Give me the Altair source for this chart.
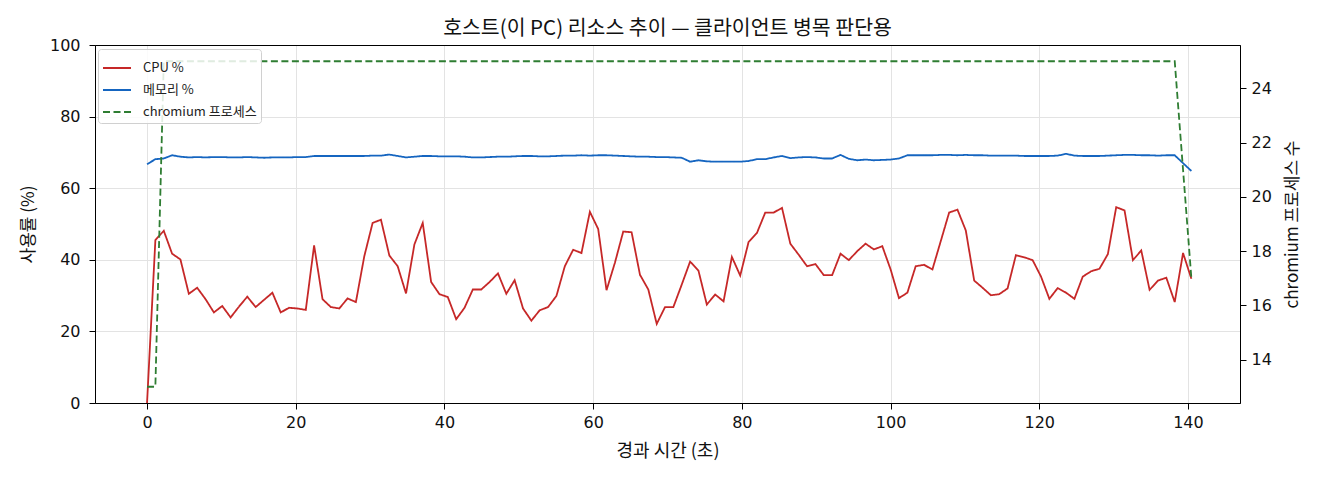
import altair as alt
import pandas as pd

# elapsed time (s) of each sample
times = [
    0.00, 1.12, 2.25, 3.37, 4.49, 5.62, 6.74, 7.87, 8.99, 10.11,
    11.24, 12.36, 13.48, 14.61, 15.73, 16.86, 17.98, 19.10, 20.23, 21.35,
    22.47, 23.60, 24.72, 25.85, 26.97, 28.09, 29.22, 30.34, 31.46, 32.59,
    33.71, 34.83, 35.96, 37.08, 38.21, 39.33, 40.45, 41.58, 42.70, 43.82,
    44.95, 46.07, 47.20, 48.32, 49.44, 50.57, 51.69, 52.81, 53.94, 55.06,
    56.19, 57.31, 58.43, 59.56, 60.68, 61.80, 62.93, 64.05, 65.17, 66.30,
    67.42, 68.55, 69.67, 70.79, 71.92, 73.04, 74.16, 75.29, 76.41, 77.54,
    78.66, 79.78, 80.91, 82.03, 83.15, 84.28, 85.40, 86.52, 87.65, 88.77,
    89.90, 91.02, 92.14, 93.27, 94.39, 95.51, 96.64, 97.76, 98.89, 100.01,
    101.13, 102.26, 103.38, 104.50, 105.63, 106.75, 107.88, 109.00, 110.12, 111.25,
    112.37, 113.49, 114.62, 115.74, 116.86, 117.99, 119.11, 120.24, 121.36, 122.48,
    123.61, 124.73, 125.85, 126.98, 128.10, 129.23, 130.35, 131.47, 132.60, 133.72,
    134.84, 135.97, 137.09, 138.22, 139.34, 140.46,
]

cpu = [
    0.0, 45.5, 48.1, 41.7, 40.1, 30.5, 32.2, 29.0, 25.3, 27.1,
    23.9, 26.9, 29.7, 26.8, 28.8, 30.8, 25.3, 26.6, 26.4, 26.0,
    44.0, 29.0, 26.8, 26.4, 29.2, 28.2, 41.0, 50.3, 51.2, 41.2,
    38.2, 30.6, 44.3, 50.3, 33.8, 30.4, 29.6, 23.4, 26.6, 31.7,
    31.7, 33.8, 36.2, 30.5, 34.3, 26.4, 23.0, 25.9, 26.8, 29.9,
    38.2, 42.8, 41.9, 53.4, 48.6, 31.5, 39.2, 47.9, 47.7, 35.8,
    31.7, 22.1, 26.8, 26.8, 33.1, 39.5, 37.0, 27.5, 30.3, 28.4,
    40.8, 35.6, 45.0, 47.5, 53.2, 53.2, 54.5, 44.5, 41.4, 38.2,
    38.8, 35.7, 35.7, 41.7, 39.9, 42.4, 44.5, 42.9, 43.8, 37.3,
    29.3, 30.8, 38.2, 38.6, 37.3, 45.2, 53.2, 54.0, 48.2, 34.2,
    32.2, 30.1, 30.4, 32.0, 41.3, 40.7, 39.9, 35.3, 29.1, 32.1,
    30.8, 29.1, 35.3, 36.8, 37.5, 41.6, 54.7, 53.8, 39.9, 42.6,
    31.6, 34.2, 35.0, 28.2, 41.9, 34.7,
]

mem = [
    66.7, 68.1, 68.3, 69.2, 68.8, 68.6, 68.7, 68.6, 68.7, 68.7,
    68.6, 68.6, 68.7, 68.6, 68.5, 68.6, 68.6, 68.6, 68.7, 68.7,
    69.0, 69.0, 69.0, 69.0, 69.0, 69.0, 69.0, 69.1, 69.1, 69.4,
    69.0, 68.6, 68.8, 69.0, 69.0, 68.9, 68.9, 68.9, 68.8, 68.6,
    68.6, 68.7, 68.8, 68.8, 68.9, 69.0, 69.0, 68.9, 68.9, 69.0,
    69.1, 69.1, 69.2, 69.1, 69.2, 69.2, 69.1, 69.0, 68.9, 68.8,
    68.8, 68.7, 68.7, 68.6, 68.5, 67.4, 67.8, 67.5, 67.4, 67.4,
    67.4, 67.4, 67.6, 68.1, 68.1, 68.6, 69.0, 68.4, 68.6, 68.7,
    68.6, 68.3, 68.3, 69.3, 68.2, 67.8, 68.0, 67.8, 67.9, 68.0,
    68.3, 69.2, 69.2, 69.2, 69.2, 69.3, 69.3, 69.2, 69.3, 69.2,
    69.2, 69.1, 69.1, 69.1, 69.1, 69.0, 69.0, 69.0, 69.0, 69.1,
    69.6, 69.1, 69.0, 69.0, 69.0, 69.1, 69.2, 69.3, 69.3, 69.2,
    69.2, 69.1, 69.2, 69.2, 67.0, 64.8,
]

procs = [
    13, 13, 25, 25, 25, 25, 25, 25, 25, 25,
    25, 25, 25, 25, 25, 25, 25, 25, 25, 25,
    25, 25, 25, 25, 25, 25, 25, 25, 25, 25,
    25, 25, 25, 25, 25, 25, 25, 25, 25, 25,
    25, 25, 25, 25, 25, 25, 25, 25, 25, 25,
    25, 25, 25, 25, 25, 25, 25, 25, 25, 25,
    25, 25, 25, 25, 25, 25, 25, 25, 25, 25,
    25, 25, 25, 25, 25, 25, 25, 25, 25, 25,
    25, 25, 25, 25, 25, 25, 25, 25, 25, 25,
    25, 25, 25, 25, 25, 25, 25, 25, 25, 25,
    25, 25, 25, 25, 25, 25, 25, 25, 25, 25,
    25, 25, 25, 25, 25, 25, 25, 25, 25, 25,
    25, 25, 25, 25, 21, 17,
]

x_ticks = [0, 20, 40, 60, 80, 100, 120, 140]
left_ticks = [0, 20, 40, 60, 80, 100]
right_ticks = [14, 16, 18, 20, 22, 24]

SERIES = ["CPU %", "메모리 %", "chromium 프로세스"]
COLORS = ["#c62828", "#1565c0", "#2e7d32"]
DASHES = [[1, 0], [1, 0], [7, 3.5]]

FONT = "Noto Sans CJK KR"
NUMFONT = "DejaVu Sans"

df_pct = pd.DataFrame({
    "t": times + times,
    "value": cpu + mem,
    "series": ["CPU %"] * len(cpu) + ["메모리 %"] * len(mem),
})
df_proc = pd.DataFrame({
    "t": times,
    "count": procs,
    "series": ["chromium 프로세스"] * len(procs),
})

legend = alt.Legend(
    title=None, orient="none", legendX=3, legendY=4,
    symbolType="stroke", symbolSize=784, symbolStrokeWidth=2,
    labelFont=FONT, labelFontSize=13, labelColor="#222222", labelOffset=11,
    rowPadding=0, padding=4, cornerRadius=3,
    fillColor="rgba(255,255,255,0.85)", strokeColor="#d0d0d0",
)

color = alt.Color("series:N", scale=alt.Scale(domain=SERIES, range=COLORS), legend=legend)
dash = alt.StrokeDash("series:N", scale=alt.Scale(domain=SERIES, range=DASHES), legend=legend)

xscale = alt.Scale(domain=[-7, 147], nice=False, zero=False)

pct = alt.Chart(df_pct).mark_line(strokeWidth=1.8).encode(
    x=alt.X("t:Q", scale=xscale,
            axis=alt.Axis(values=x_ticks, title="경과 시간 (초)", grid=True, format="d",
                          orient="bottom", titleFontSize=18)),
    y=alt.Y("value:Q", scale=alt.Scale(domain=[0, 100], nice=False),
            axis=alt.Axis(values=left_ticks, title="사용률 (%)", grid=True, orient="left",
                          format="d", labelPadding=9, titlePadding=12)),
    color=color,
    strokeDash=dash,
)

proc = alt.Chart(df_proc).mark_line(strokeWidth=1.8).encode(
    x=alt.X("t:Q", scale=xscale,
            axis=alt.Axis(orient="top", labels=False, ticks=False, title=None, grid=False,
                          domain=True)),
    y=alt.Y("count:Q", scale=alt.Scale(domain=[12.4, 25.6], nice=False, zero=False),
            axis=alt.Axis(values=right_ticks, title="chromium 프로세스 수", grid=False,
                          orient="right", format="d", titleAngle=270,
                          titleX=52, titleY=179, titleAlign="center",
                          titleBaseline="middle")),
    color=color,
    strokeDash=dash,
)

chart = alt.layer(pct, proc).resolve_scale(y="independent").resolve_axis(
    x="independent", y="independent"
).properties(
    width=1145,
    height=358,
    title=alt.TitleParams("호스트(이 PC) 리소스 추이 — 클라이언트 병목 판단용",
                          font=FONT, fontSize=20.5, fontWeight="normal", color="#111111",
                          anchor="middle", offset=-2),
    autosize=alt.AutoSizeParams(type="none"),
    padding={"left": 87, "top": 37, "right": 72, "bottom": 60},
).configure_view(
    stroke="black", strokeWidth=1,
).configure_axis(
    domainColor="black", domainWidth=1,
    tickColor="black", tickSize=6, tickWidth=1,
    labelFont=NUMFONT, labelFontSize=16, labelColor="#111111", labelPadding=5,
    titleFont=FONT, titleFontSize=17, titleFontWeight="normal", titleColor="#111111",
    titlePadding=12,
    gridColor="#e3e3e3", gridWidth=1,
)

chart.save("out.html", embed_options={"renderer": "svg", "actions": False})
